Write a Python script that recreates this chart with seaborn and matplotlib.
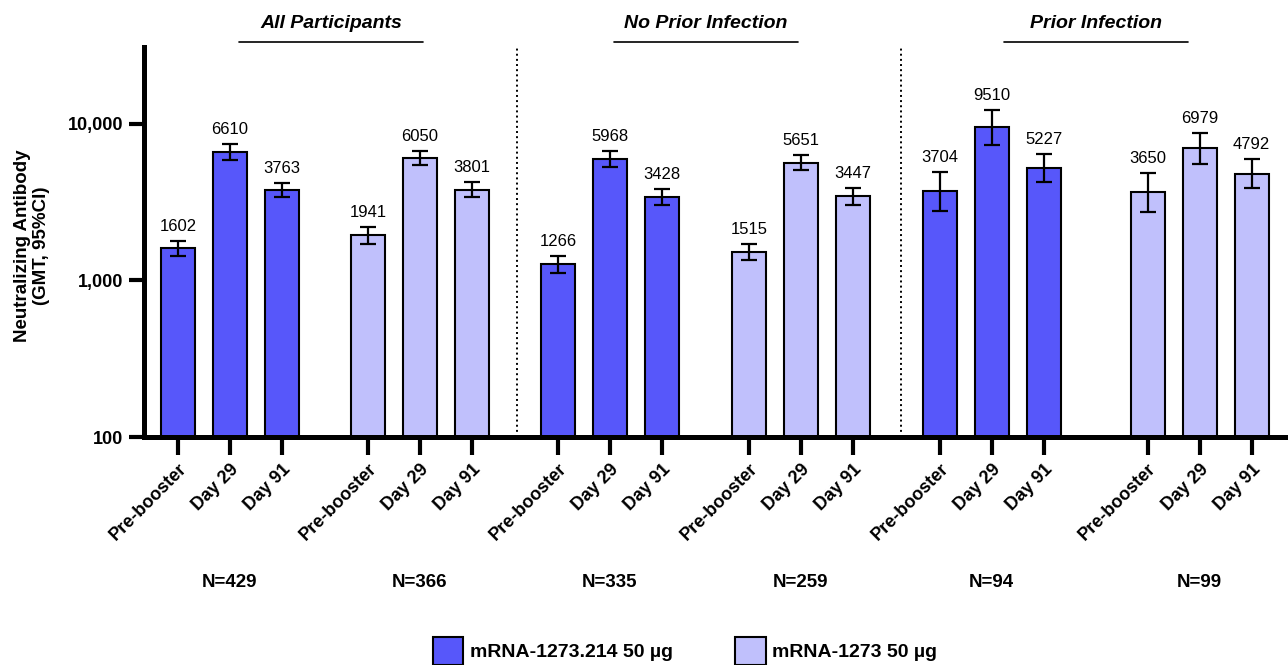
import numpy as np
import pandas as pd
import matplotlib
matplotlib.use("Agg")
import matplotlib.pyplot as plt
import matplotlib.transforms as mtransforms
from matplotlib.patches import Patch
from matplotlib.ticker import FixedLocator, FixedFormatter, NullLocator
import seaborn as sns

# --- данные ---
sections = ["All Participants", "No Prior Infection", "Prior Infection"]
vaccines = ["mRNA-1273.214 50 µg", "mRNA-1273 50 µg"]
timepoints = ["Pre-booster", "Day 29", "Day 91"]
n_labels = ["N=429", "N=366", "N=335", "N=259", "N=94", "N=99"]

gmt = [1602, 6610, 3763, 1941, 6050, 3801,
       1266, 5968, 3428, 1515, 5651, 3447,
       3704, 9510, 5227, 3650, 6979, 4792]
ci_low = [1430, 5900, 3400, 1713, 5460, 3410,
          1120, 5295, 3047, 1347, 5060, 3050,
          2785, 7350, 4265, 2755, 5570, 3870]
ci_high = [1795, 7400, 4170, 2200, 6700, 4235,
           1430, 6725, 3857, 1705, 6310, 3895,
           4925, 12300, 6405, 4835, 8745, 5935]

# --- раскладка ---
group_start = [0, 3.654, 7.308, 10.98, 14.65, 18.65]
positions = [s + k for s in group_start for k in range(3)]
title_centers = [2.95, 10.15, 17.65]
dividers = [6.52, 13.90]

df = pd.DataFrame({
    "pos": positions,
    "gmt": gmt,
    "vaccine": [vaccines[g % 2] for g in range(6) for _ in range(3)],
    "timepoint": timepoints * 6,
})

sns.set_style("white")
plt.rcParams["font.family"] = ["Liberation Sans", "DejaVu Sans"]
for key in ["text.color", "axes.labelcolor", "xtick.color", "ytick.color"]:
    plt.rcParams[key] = "black"

fig = plt.figure(figsize=(12.88, 6.65), dpi=100)
ax = fig.add_axes([144 / 1288, 228 / 665, 1144 / 1288, 390 / 665])

palette = {vaccines[0]: "#5757FA", vaccines[1]: "#C0C0FC"}
sns.barplot(data=df, x="pos", y="gmt", hue="vaccine", palette=palette,
            native_scale=True, dodge=False, width=0.65, errorbar=None,
            saturation=1, edgecolor="black", linewidth=1.5, legend=False,
            ax=ax)
ax.set_yscale("log")

g = np.array(gmt)
yerr = [g - np.array(ci_low), np.array(ci_high) - g]
ax.errorbar(positions, gmt, yerr=yerr, fmt="none", ecolor="black",
            elinewidth=1.6, capsize=6, capthick=1.6, zorder=5)

for x, v, hi in zip(positions, gmt, ci_high):
    ax.annotate(str(v), (x, hi), xytext=(0, 5), textcoords="offset points",
                ha="center", va="bottom", fontsize=12)

ax.set_ylim(100, 31000)
ax.set_xlim(-0.654, 21.35)
ax.yaxis.set_major_locator(FixedLocator([100, 1000, 10000]))
ax.yaxis.set_major_formatter(FixedFormatter(["100", "1,000", "10,000"]))
ax.yaxis.set_minor_locator(NullLocator())
ax.set_xticks(positions)
ax.set_xticklabels(timepoints * 6, rotation=45, ha="right", va="top",
                   rotation_mode="anchor", fontsize=13, fontweight="bold")
for lab in ax.get_yticklabels():
    lab.set_fontweight("bold")
    lab.set_fontsize(13)
ax.tick_params(axis="y", length=11, width=3, pad=4, direction="out", left=True)
ax.tick_params(axis="x", length=13, width=3, pad=4, direction="out", bottom=True)
ax.set_xlabel("")
ax.set_ylabel("")

for side in ["top", "right"]:
    ax.spines[side].set_visible(False)
for side in ["left", "bottom"]:
    ax.spines[side].set_linewidth(3.6)
    ax.spines[side].set_color("black")

for d in dividers:
    ax.axvline(d, color="black", linestyle=":", linewidth=1.4)

trans = mtransforms.blended_transform_factory(ax.transData, ax.transAxes)
for name, c in zip(sections, title_centers):
    ax.text(c, 1.06, name, transform=trans, ha="center", va="center",
            fontsize=14, fontweight="bold", fontstyle="italic")
    ax.plot([c - 1.77, c + 1.77], [1.013, 1.013], transform=trans,
            color="black", linewidth=1.2, clip_on=False)

for i, lab in enumerate(n_labels):
    ax.text(group_start[i] + 1, -0.374, lab, transform=trans, ha="center",
            va="center", fontsize=13.5, fontweight="bold")

fig.text(32 / 1288, 1 - 246 / 665, "Neutralizing Antibody\n(GMT, 95%CI)",
         rotation=90, ha="center", va="center", fontsize=13.5,
         fontweight="bold", multialignment="center", linespacing=1.1)

handles = [Patch(facecolor=palette[v], edgecolor="black", linewidth=1.5)
           for v in vaccines]
fig.legend(handles, vaccines, loc="upper left",
           bbox_to_anchor=(433 / 1288, 1 - 637 / 665), ncol=2, frameon=False,
           borderpad=0, borderaxespad=0, handlelength=1.55, handleheight=1.8,
           handletextpad=0.36, columnspacing=3.2,
           prop={"weight": "bold", "size": 14})

fig.savefig("out.png", dpi=100)
